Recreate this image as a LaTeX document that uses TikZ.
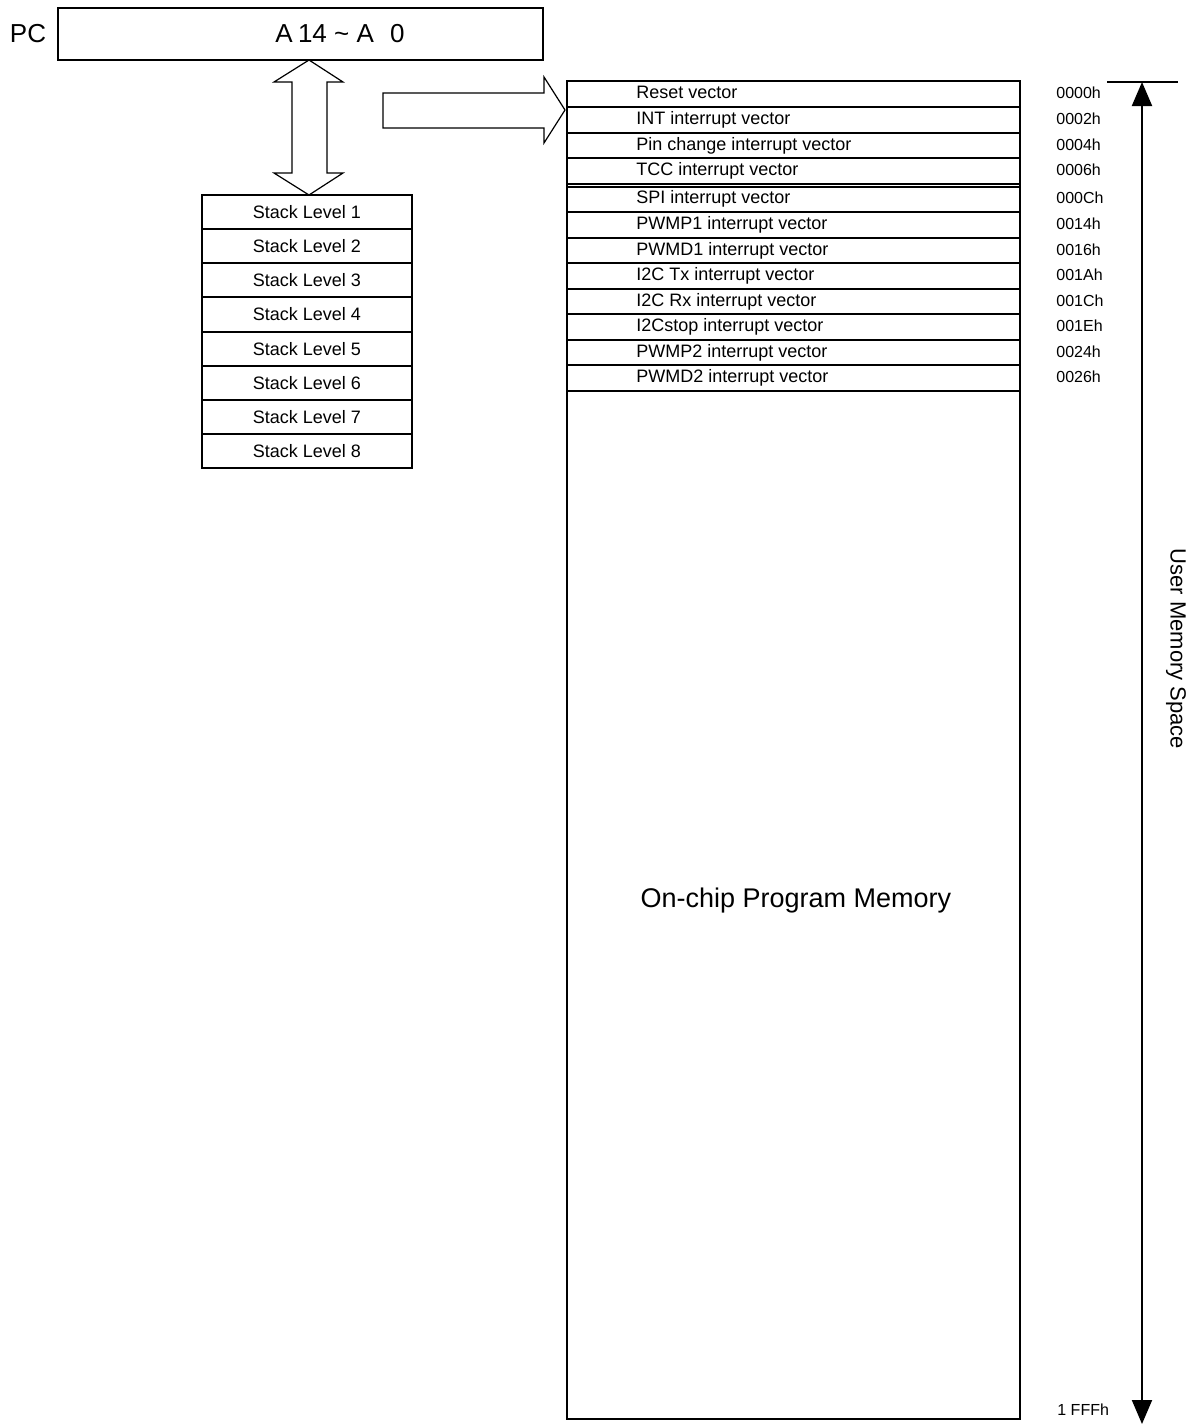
\documentclass[tikz,border=0pt]{standalone}
\usepackage{fontspec}
\setmainfont{Liberation Sans}
\usetikzlibrary{arrows.meta,calc}
\begin{document}
\begin{tikzpicture}[x=0.5pt,y=-0.5pt,
  pcbox/.style={draw, line width=1pt, minimum width=242.5pt, minimum height=26pt, inner sep=0pt},
  stackrow/.style={draw, line width=1pt, minimum width=105pt, minimum height=17.06pt, inner sep=0pt, font=\fontsize{9}{11}\selectfont},
  vrow/.style={draw, line width=1pt, minimum width=226.5pt, inner sep=0pt},
  vtext/.style={anchor=west, inner sep=0pt, text height=6.5pt, text depth=1.8pt, font=\fontsize{9}{11}\selectfont},
  addr/.style={anchor=west, inner sep=0pt, text height=6.5pt, text depth=1.8pt, font=\fontsize{8}{10}\selectfont},
  bigarrow/.style={draw, line width=0.6pt, fill=white, line join=miter},
  axis/.style={line width=1pt, {Triangle[length=12pt,width=10pt]}-{Triangle[length=12pt,width=10pt]}},
  bigtext/.style={inner sep=0pt, font=\fontsize{13.5}{16}\selectfont}
]
\useasboundingbox (0,0) rectangle (1202,1426);

% PC register
\node[pcbox] (pc) at (300.5,34) {};
\node[inner sep=0pt, font=\fontsize{13}{15}\selectfont] (pclabel) at (28,34) {PC};
\node[inner sep=0pt, font=\fontsize{13}{15}\selectfont] (pcaddr) at (340,34) {A\hspace{0.2em}14 \textasciitilde{} A\hspace{0.62em}0};

% stack
\foreach \i in {1,...,8}{
  \pgfmathsetmacro{\yy}{195+34.125*(\i-0.5)}
  \node[stackrow] (stack\i) at (307,\yy) {Stack Level \i};
}

% double arrow between PC and stack
\draw[bigarrow] (309,60) -- (343,82) -- (327,82) -- (327,173) -- (343,173) -- (309,195)
  -- (274,173) -- (292,173) -- (292,82) -- (274,82) -- cycle;

% arrow to program memory
\draw[bigarrow] (383,93) -- (544,93) -- (544,77) -- (565,110) -- (544,143) -- (544,128) -- (383,128) -- cycle;

% program memory
\node[draw, line width=1pt, minimum width=226.5pt, minimum height=669pt, inner sep=0pt] (mem) at (793.5,750) {};
\node[bigtext] (memlabel) at (796,901) {On-chip Program Memory};

\foreach \t/\a [count=\i] in {Reset vector/0000h, INT interrupt vector/0002h,
   Pin change interrupt vector/0004h, TCC interrupt vector/0006h,
   SPI interrupt vector/000Ch, PWMP1 interrupt vector/0014h,
   PWMD1 interrupt vector/0016h, I2C Tx interrupt vector/001Ah,
   I2C Rx interrupt vector/001Ch, I2Cstop interrupt vector/001Eh,
   PWMP2 interrupt vector/0024h, PWMD2 interrupt vector/0026h}{
  \pgfmathsetmacro{\yy}{\i<5 ? 81+25.75*(\i-0.5) : 186.5+25.56*(\i-4.5)}
  \pgfmathsetmacro{\hh}{\i<5 ? 12.875 : 12.78}
  \node[vrow, minimum height=\hh pt] (v\i) at (793.5,\yy) {};
  \node[vtext] (vt\i) at (636,\yy) {\t};
  \node[addr] (va\i) at (1056,\yy) {\a};
}
\node[addr] (vend) at (1057,1411) {1 FFFh};

% user memory space axis
\coordinate (axtop) at (1142,82);
\coordinate (axbot) at (1142,1424);
\draw[line width=1pt] (1107,82) -- (1178,82);
\draw[axis] (axtop) -- (axbot);
\node[inner sep=0pt, rotate=-90, font=\fontsize{11}{13}\selectfont] (uspace) at (1176,649) {User Memory Space};
\end{tikzpicture}
\end{document}
